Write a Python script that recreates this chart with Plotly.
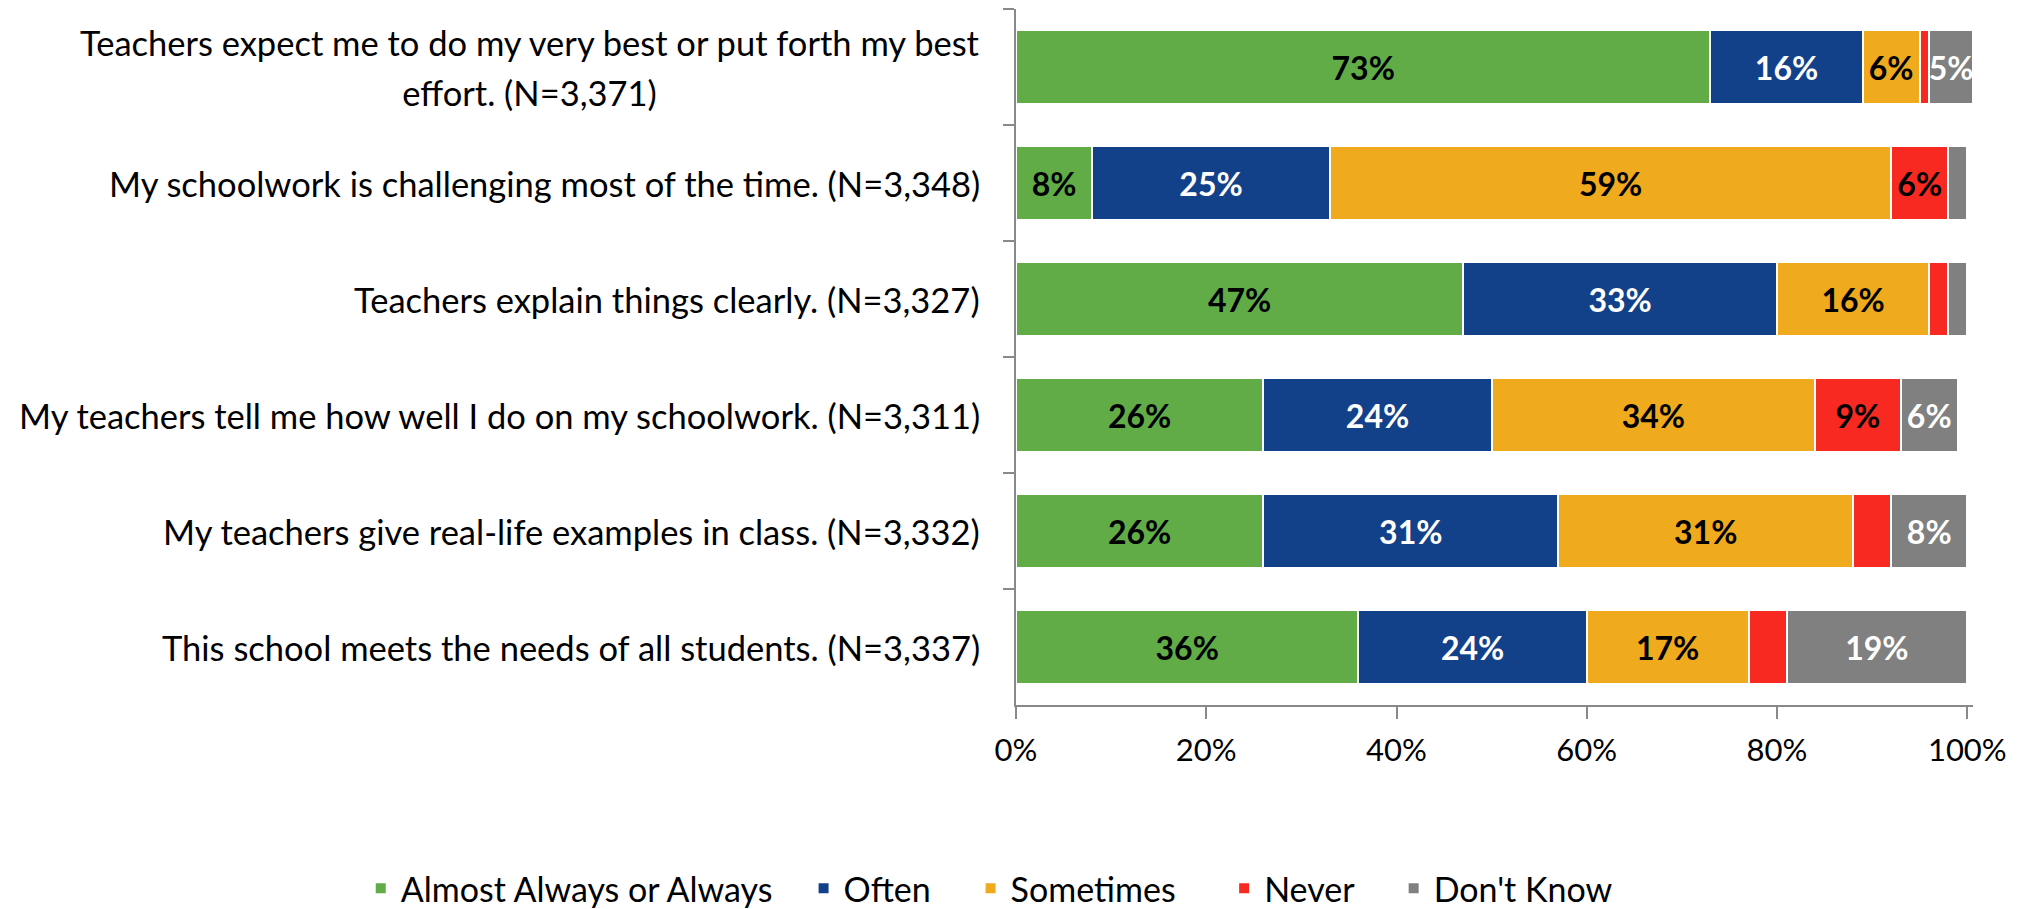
import plotly.graph_objects as go

categories = [
    "Teachers expect me to do my very best or put forth my best<br>effort. (N=3,371)",
    "My schoolwork is challenging most of the time. (N=3,348)",
    "Teachers explain things clearly. (N=3,327)",
    "My teachers tell me how well I do on my schoolwork. (N=3,311)",
    "My teachers give real-life examples in class. (N=3,332)",
    "This school meets the needs of all students. (N=3,337)",
]
series_names = ["Almost Always or Always", "Often", "Sometimes", "Never", "Don't Know"]
almost_always = [73, 8, 47, 26, 26, 36]
often = [16, 25, 33, 24, 31, 24]
sometimes = [6, 59, 16, 34, 31, 17]
never = [1, 6, 2, 9, 4, 4]
dont_know = [4.6, 2, 2, 6, 8, 19]
x_ticks = [0, 20, 40, 60, 80, 100]
x_tick_labels = ["0%", "20%", "40%", "60%", "80%", "100%"]

colors = ["#62AC47", "#134189", "#F0AA1D", "#F82920", "#808080"]
text_colors = ["black", "white", "black", "black", "white"]
legend_pads = [3, 4, 5, 4, 0]  # spacing after each legend entry
all_series = [almost_always, often, sometimes, never, dont_know]

FONT = "Lato, 'Open Sans', sans-serif"
LABEL_SIZE = 34.5

fig = go.Figure()
for name, vals, col, tcol, pad in zip(series_names, all_series, colors, text_colors, legend_pads):
    fig.add_trace(go.Bar(
        name=name + "\u00a0" * pad,
        y=categories,
        x=vals,
        orientation="h",
        marker=dict(color=col, line=dict(color="white", width=2)),
        text=[f"{v:.0f}%" if v >= 4.5 else "" for v in vals],
        textposition="inside",
        insidetextanchor="middle",
        textangle=0,
        constraintext="none",
        textfont=dict(family=FONT, size=32, color=tcol, weight="bold"),
        cliponaxis=False,
        hoverinfo="skip",
    ))

for cat in categories:
    label = "<br>".join(
        f"<span style='font-size:{LABEL_SIZE}px'>{line}</span>" for line in cat.split("<br>")
    )
    fig.add_annotation(
        xref="x", yref="y", x=0, y=cat, xshift=-34,
        xanchor="right", yanchor="middle", align="center",
        text=label, showarrow=False,
        font=dict(family=FONT, size=38.5, color="black"),
    )

fig.update_layout(
    width=2026, height=909,
    barmode="stack",
    bargap=0.36,
    plot_bgcolor="white", paper_bgcolor="white",
    margin=dict(l=1016, r=53.3, t=9, b=204, autoexpand=False),
    font=dict(family=FONT, size=31, color="black"),
    showlegend=True,
    legend=dict(
        orientation="h", xref="paper", yref="paper",
        x=-0.6847, xanchor="left", y=-0.264, yanchor="middle",
        font=dict(family=FONT, size=34, color="black"),
        traceorder="normal",
    ),
    xaxis=dict(
        range=[0, 100.6], tickvals=x_ticks, ticktext=x_tick_labels,
        showgrid=False, zeroline=False,
        showline=True, linecolor="#898989", linewidth=2,
        ticks="outside", ticklen=12, tickwidth=2, tickcolor="#898989",
        ticklabelstandoff=5,
        tickfont=dict(family=FONT, size=31, color="black"),
    ),
    yaxis=dict(
        categoryorder="array", categoryarray=categories,
        autorange="reversed",
        showticklabels=False, showgrid=False, zeroline=False,
        showline=True, linecolor="#898989", linewidth=2,
        ticks="outside", ticklen=11, tickwidth=2, tickcolor="#898989",
        tickson="boundaries",
    ),
)

# remove the browser's default 8px body margin so the figure fills the window exactly
fig.write_html(
    "out.html",
    config={"displayModeBar": False},
    post_script="document.body.style.margin='0';document.body.style.overflow='hidden';",
)
